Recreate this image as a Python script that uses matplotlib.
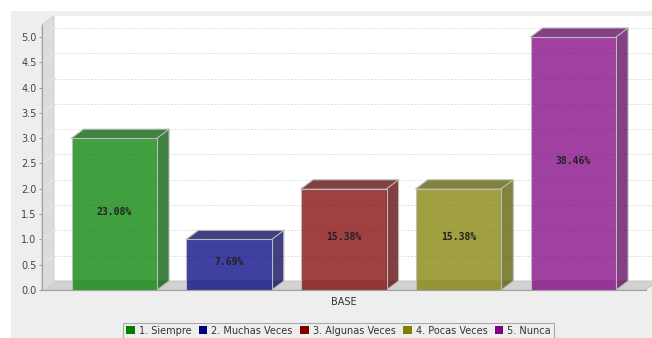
import numpy as np
import matplotlib
matplotlib.use("Agg")
import matplotlib.pyplot as plt
from matplotlib.patches import Rectangle, Polygon, Patch
from matplotlib.colors import to_rgb

# ---- data ----
series_names = ['1. Siempre', '2. Muchas Veces', '3. Algunas Veces', '4. Pocas Veces', '5. Nunca']
values = [3, 1, 2, 2, 5]
pct_labels = ['23.08%', '7.69%', '15.38%', '15.38%', '38.46%']
colors = ['#008000', '#000080', '#800000', '#808000', '#800080']
category = 'BASE'
yticks = [0.0, 0.5, 1.0, 1.5, 2.0, 2.5, 3.0, 3.5, 4.0, 4.5, 5.0]

W, H, DPI = 652, 338, 100
fig = plt.figure(figsize=(W / DPI, H / DPI), dpi=DPI, facecolor='white')
# chart panel background
fig.patches.append(Rectangle((11 / W, 0), 1, (H - 11) / H, transform=fig.transFigure,
                             facecolor='#eeeeee', edgecolor='none', zorder=-10))

ax = fig.add_axes([42 / W, 48 / H, 603.6 / W, 265 / H])
ax.set_facecolor('none')
xmin, xmax = -0.63, 4.63
ymin, ymax = 0.0, 5.237
ax.set_xlim(xmin, xmax)
ax.set_ylim(ymin, ymax)

# 3D offset (pixels) converted to data units
DX, DY = 12, 9
p0 = ax.transData.transform((0, 0))
p1 = ax.transData.transform((1, 1))
ddx = DX / (p1[0] - p0[0])
ddy = DY / (p1[1] - p0[1])

# back wall
ax.add_patch(Rectangle((xmin + ddx, ymin + ddy), (xmax - xmin) + 1, ymax - ymin,
                       facecolor='white', edgecolor='none', clip_on=False, zorder=0))
# back wall gridlines
for t in yticks:
    ax.plot([xmin + ddx, xmax + ddx + 1], [t + ddy, t + ddy], color='#d4d4d4', lw=0.6,
            dashes=(2, 2), clip_on=False, zorder=1)
# left wall
ax.add_patch(Polygon([(xmin, ymin), (xmin + ddx, ymin + ddy), (xmin + ddx, ymax + ddy), (xmin, ymax)],
                     closed=True, facecolor='#dcdcdc', edgecolor='#c8c8c8', lw=0.6,
                     clip_on=False, zorder=2))
for t in yticks:
    ax.plot([xmin, xmin + ddx], [t, t + ddy], color='#e8e8e8', lw=0.6, clip_on=False, zorder=2.5)
# floor
ax.add_patch(Polygon([(xmin, ymin), (xmax, ymin), (xmax + ddx, ymin + ddy), (xmin + ddx, ymin + ddy)],
                     closed=True, facecolor='#d2d2d2', edgecolor='#c0c0c0', lw=0.6,
                     clip_on=False, zorder=2))

# bars
bw = 0.745
xs = np.arange(len(values))
alpha = 0.75
for x, v, c, lab in zip(xs, values, colors, pct_labels):
    base = np.array(to_rgb(c))
    dark = base * 0.7
    l, r = x - bw / 2, x + bw / 2
    # side
    ax.add_patch(Polygon([(r, 0), (r + ddx, ddy), (r + ddx, v + ddy), (r, v)], closed=True,
                         facecolor=dark, alpha=alpha, edgecolor='none', clip_on=False, zorder=3))
    # top
    ax.add_patch(Polygon([(l, v), (r, v), (r + ddx, v + ddy), (l + ddx, v + ddy)], closed=True,
                         facecolor=dark, alpha=alpha, edgecolor='none', clip_on=False, zorder=3))
    ax.plot([l, l + ddx, r + ddx, r + ddx, r], [v, v + ddy, v + ddy, ddy, 0], color='#bbbbbb',
            lw=0.8, clip_on=False, zorder=3.5)
    ax.plot([r, r + ddx], [v, v + ddy], color='#bbbbbb', lw=0.8, clip_on=False, zorder=3.5)
for x, v, c, lab in zip(xs, values, colors, pct_labels):
    ax.bar(x, v, width=bw, color=c, alpha=alpha, edgecolor='none', zorder=4, clip_on=False)
    ax.bar(x, v, width=bw, facecolor='none', edgecolor='#bbbbbb', lw=0.8, zorder=4.5, clip_on=False)
    ax.text(x, v / 2 + 0.05, lab, ha='center', va='center', family='DejaVu Sans Mono',
            fontsize=7, fontweight='bold', color='#222222', zorder=6)

# axes styling
for s in ['top', 'right']:
    ax.spines[s].set_visible(False)
for s in ['left', 'bottom']:
    ax.spines[s].set_color('#a0a0a0')
    ax.spines[s].set_linewidth(0.8)
    ax.spines[s].set_zorder(5)
ax.set_yticks(yticks)
ax.set_yticklabels([f'{t:.1f}' for t in yticks])
ax.tick_params(axis='y', length=2, width=0.6, color='#808080', labelsize=7, labelcolor='#444444', pad=2)
ax.set_xticks([2])
ax.set_xticklabels([category])
ax.tick_params(axis='x', length=0, labelsize=7, labelcolor='#333333', pad=5)

handles = [Patch(facecolor=c, edgecolor='none') for c in colors]
leg = fig.legend(handles, series_names, loc='upper center', bbox_to_anchor=(338.5 / W, 15.3 / H),
                 ncol=5, fontsize=7, frameon=True, fancybox=False, borderaxespad=0,
                 handlelength=0.9, handleheight=0.9, handletextpad=0.4, columnspacing=0.75,
                 borderpad=0.3)
leg.get_frame().set_edgecolor('#999999')
leg.get_frame().set_facecolor('#eeeeee')
leg.get_frame().set_linewidth(0.8)
for t in leg.get_texts():
    t.set_color('#333333')

fig.savefig('out.png', dpi=DPI, facecolor=fig.get_facecolor())
